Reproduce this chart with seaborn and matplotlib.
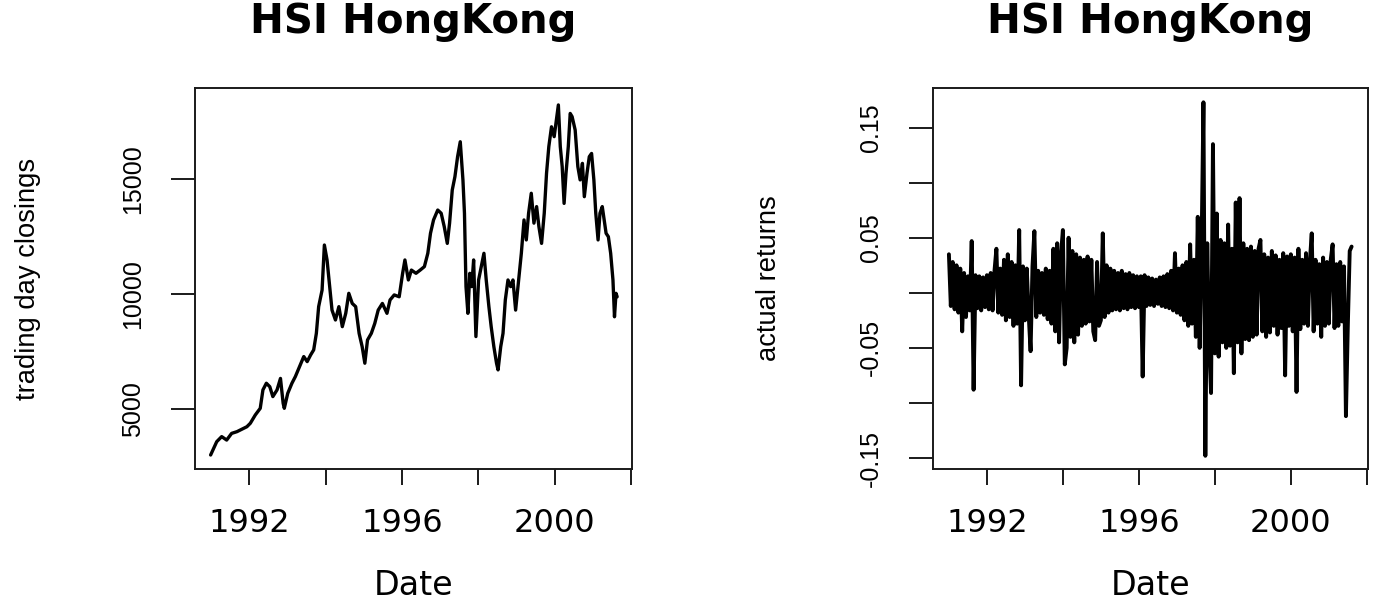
import numpy as np
import matplotlib
matplotlib.use("Agg")
import matplotlib.pyplot as plt
import seaborn as sns
from matplotlib import font_manager

# ---------------- data ----------------
title_text = "HSI HongKong"

close_years = [
    1990.99, 1991.15, 1991.28, 1991.41, 1991.54, 1991.68, 1991.81, 1991.94,
    1992.03, 1992.16, 1992.29, 1992.36, 1992.45, 1992.54, 1992.62, 1992.73,
    1992.82, 1992.89, 1992.92, 1993.01, 1993.12, 1993.21, 1993.32, 1993.43,
    1993.52, 1993.61, 1993.69, 1993.76, 1993.82, 1993.91, 1993.97, 1994.04,
    1994.11, 1994.17, 1994.26, 1994.35, 1994.44, 1994.53, 1994.61, 1994.70,
    1994.79, 1994.88, 1994.96, 1995.03, 1995.10, 1995.20, 1995.29, 1995.38,
    1995.49, 1995.61, 1995.69, 1995.80, 1995.93, 1996.02, 1996.08, 1996.17,
    1996.25, 1996.37, 1996.48, 1996.59, 1996.68, 1996.75, 1996.83, 1996.94,
    1997.03, 1997.11, 1997.19, 1997.25, 1997.32, 1997.39, 1997.46, 1997.53,
    1997.60, 1997.64, 1997.68, 1997.73, 1997.78, 1997.83, 1997.88, 1997.94,
    1998.01, 1998.08, 1998.15, 1998.21, 1998.28, 1998.34, 1998.41, 1998.48,
    1998.52, 1998.59, 1998.65, 1998.71, 1998.78, 1998.85, 1998.91, 1998.98,
    1999.06, 1999.13, 1999.20, 1999.26, 1999.32, 1999.39, 1999.46, 1999.53,
    1999.59, 1999.66, 1999.73, 1999.79, 1999.85, 1999.92, 1999.99, 2000.06,
    2000.10, 2000.15, 2000.20, 2000.25, 2000.30, 2000.36, 2000.41, 2000.46,
    2000.54, 2000.61, 2000.67, 2000.73, 2000.78, 2000.85, 2000.91, 2000.97,
    2001.03, 2001.08, 2001.14, 2001.19, 2001.25, 2001.30, 2001.35, 2001.41,
    2001.47, 2001.53, 2001.57, 2001.61, 2001.64,
]
close_values = [
    3000, 3580, 3800, 3650, 3940, 4015, 4120, 4230,
    4380, 4740, 5030, 5830, 6120, 5970, 5540, 5830,
    6330, 5250, 5030, 5680, 6120, 6410, 6840, 7280,
    7060, 7350, 7570, 8290, 9450, 10170, 12130, 11480,
    10320, 9300, 8870, 9450, 8580, 9160, 10030, 9590,
    9450, 8290, 7710, 6990, 8000, 8290, 8720, 9300,
    9590, 9160, 9740, 9960, 9880, 10900, 11480, 10610,
    11040, 10900, 11040, 11190, 11770, 12640, 13220, 13650,
    13510, 12930, 12200, 13080, 14520, 15100, 15970, 16620,
    14960, 13510, 10320, 9160, 10900, 10320, 11480, 8150,
    10610, 11190, 11770, 10610, 9450, 8580, 7710, 6990,
    6700, 7710, 8290, 9740, 10610, 10320, 10610, 9300,
    10610, 11770, 13220, 12350, 13510, 14380, 13080, 13800,
    12930, 12200, 13510, 15250, 16410, 17270, 16840, 17710,
    18220, 16410, 15540, 13940, 15250, 16410, 17850, 17710,
    17130, 15540, 14960, 15680, 14230, 15250, 15970, 16110,
    14960, 13510, 12350, 13510, 13800, 13220, 12640, 12490,
    11770, 10610, 9010, 10030, 9880,
]

# returns sampled every 0.05 year starting at 1991.0
returns_start = 1991.0
returns_step = 0.05
returns = [
    # 1991
    0.035, -0.012, 0.028, -0.015, 0.025, -0.018, 0.022, -0.035, 0.018, -0.022,
    0.015, -0.016, 0.047, -0.088, 0.016, -0.014, 0.015, -0.016, 0.014, -0.013,
    # 1992
    0.016, -0.015, 0.018, -0.016, 0.020, 0.040, -0.018, 0.022, -0.020, 0.030,
    -0.025, 0.035, -0.022, 0.028, -0.030, 0.025, -0.028, 0.057, -0.084, 0.024,
    # 1993
    -0.025, 0.022, -0.020, -0.053, 0.024, 0.056, -0.022, 0.020, -0.018, 0.018,
    -0.020, 0.022, -0.024, 0.020, -0.028, 0.040, -0.035, 0.045, -0.045, 0.035,
    # 1994
    0.057, -0.065, -0.050, 0.050, -0.040, 0.038, -0.045, 0.035, -0.038, 0.032,
    -0.030, 0.030, -0.028, 0.033, -0.026, 0.030, -0.035, -0.043, 0.028, -0.030,
    # 1995
    -0.025, 0.054, -0.022, 0.025, -0.018, 0.022, -0.016, 0.020, -0.015, 0.018,
    -0.016, 0.020, -0.014, 0.017, -0.015, 0.018, -0.013, 0.016, -0.014, 0.015,
    # 1996
    -0.013, 0.015, -0.076, 0.016, -0.012, 0.014, -0.011, 0.013, -0.012, 0.012,
    -0.010, 0.014, -0.012, 0.015, -0.013, 0.017, -0.014, 0.020, -0.016, 0.036,
    # 1997
    -0.018, 0.022, -0.020, 0.025, -0.025, 0.028, -0.030, 0.044, -0.028, 0.030,
    -0.040, 0.069, -0.050, 0.040, 0.173, -0.148, 0.045, -0.045, -0.091, 0.135,
    # 1998
    -0.055, 0.072, -0.058, 0.048, -0.045, 0.045, -0.050, 0.062, -0.048, 0.040,
    -0.073, 0.082, -0.045, 0.086, -0.055, 0.045, -0.042, 0.040, -0.043, 0.042,
    # 1999
    -0.040, 0.038, -0.038, 0.040, 0.048, -0.035, 0.035, -0.040, 0.032, -0.036,
    0.038, -0.030, 0.034, -0.038, 0.030, -0.032, 0.036, -0.075, 0.033, -0.030,
    # 2000
    0.035, -0.035, 0.032, -0.090, 0.040, -0.033, 0.030, -0.028, 0.036, -0.030,
    0.028, 0.054, -0.035, 0.030, -0.028, 0.026, -0.040, 0.032, -0.030, 0.028,
    # 2001
    -0.028, 0.030, 0.044, -0.032, 0.026, -0.030, 0.028, -0.026, 0.024, -0.112,
    -0.030, 0.038, 0.042,
]

x_ticks = [1992, 1994, 1996, 1998, 2000, 2002]
x_tick_labels = ["1992", "", "1996", "", "2000", ""]
close_ticks = [5000, 10000, 15000]
close_tick_labels = ["5000", "10000", "15000"]
ret_ticks = [-0.15, -0.10, -0.05, 0.0, 0.05, 0.10, 0.15]
ret_tick_labels = ["-0.15", "", "-0.05", "", "0.05", "", "0.15"]

# ---------------- styling ----------------
sns.set_style("ticks")
plt.rcParams["font.family"] = ["DejaVu Sans"]
plt.rcParams["text.color"] = "black"
plt.rcParams["axes.labelcolor"] = "black"
plt.rcParams["xtick.color"] = "black"
plt.rcParams["ytick.color"] = "black"

names = {f.name for f in font_manager.fontManager.ttflist}
if "Liberation Sans Narrow" in names:
    narrow, nscale = "Liberation Sans Narrow", 1.0
else:
    narrow, nscale = "Liberation Sans", 0.82

ret_years = returns_start + returns_step * np.arange(len(returns))

fig = plt.figure(figsize=(13.74, 6.03), dpi=100)
ax1 = fig.add_axes([0.1419, 0.2222, 0.3181, 0.6319])
ax2 = fig.add_axes([0.6790, 0.2222, 0.3166, 0.6319])

sns.lineplot(x=close_years, y=close_values, ax=ax1, color="black",
             linewidth=2.4, estimator=None, sort=False)
sns.lineplot(x=ret_years, y=returns, ax=ax2, color="black",
             linewidth=2.8, estimator=None, sort=False)

edge = "#1a1a1a"


def style(ax, yticks, ylabels, ylim, ylabel, ylab_x):
    ax.set_xlim(1990.58, 2002.03)
    ax.set_ylim(*ylim)
    ax.set_xticks(x_ticks)
    ax.set_xticklabels(x_tick_labels, fontsize=23, family="DejaVu Sans",
                       color="black")
    ax.set_yticks(yticks)
    ax.set_yticklabels(ylabels, rotation=90, va="center", ha="right",
                       fontsize=22 * nscale, family=narrow, color="black")
    ax.tick_params(axis="x", length=11.5, width=1.4, pad=16.5,
                   direction="out", color=edge, bottom=True)
    ax.tick_params(axis="y", length=17, width=1.4, pad=19,
                   direction="out", color=edge, left=True)
    for s in ax.spines.values():
        s.set_visible(True)
        s.set_linewidth(1.4)
        s.set_color(edge)
    ax.set_title(title_text, fontsize=29, fontweight="bold", pad=39.6,
                 color="black")
    ax.set_xlabel("Date", fontsize=24, va="baseline", color="black")
    ax.xaxis.set_label_coords(0.5, -0.331)
    ax.set_ylabel(ylabel, fontsize=24 * nscale, family=narrow, va="center",
                  color="black")
    ax.yaxis.set_label_coords(ylab_x, 0.5)
    ax.grid(False)


style(ax1, close_ticks, close_tick_labels, (2391, 18957),
      "trading day closings", -0.381)
style(ax2, ret_ticks, ret_tick_labels, (-0.160, 0.186),
      "actual returns", -0.377)

fig.savefig("out.png", dpi=100)
